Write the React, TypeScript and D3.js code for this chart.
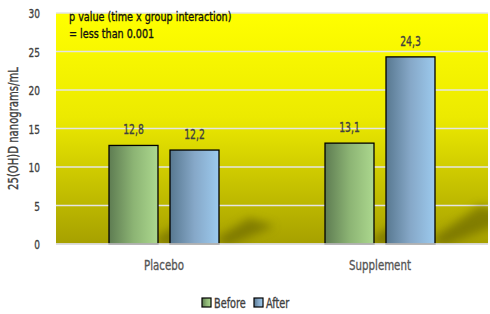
import React from "react";
import * as d3 from "d3";

const categories = ["Placebo", "Supplement"];
const seriesNames = ["Before", "After"];
const beforeValues = [12.8, 13.1];
const afterValues = [12.2, 24.3];
const yTicks = [0, 5, 10, 15, 20, 25, 30];

const W = 490;
const H = 314;
const margin = { left: 56, right: 2, top: 13, bottom: 70 };
const FONT = "'DejaVu Sans', sans-serif";

function T(props: {
  x: number;
  y: number;
  sx?: number;
  size: number;
  anchor?: "start" | "middle" | "end";
  fill?: string;
  rotate?: number;
  children: React.ReactNode;
}) {
  const { x, y, sx = 0.72, size, anchor = "start", fill = "#404040", rotate = 0 } = props;
  return (
    <text
      transform={`translate(${x},${y}) rotate(${rotate}) scale(${sx},1)`}
      textAnchor={anchor}
      fontFamily={FONT}
      fontSize={size}
      fill={fill}
      stroke={fill}
      strokeWidth={0.35}
    >
      {props.children}
    </text>
  );
}

export default function App() {
  const x0 = d3.scaleBand().domain(categories).range([margin.left, W - margin.right]).padding(0);
  const x1 = d3
    .scaleBand()
    .domain(seriesNames)
    .range([0, x0.bandwidth()])
    .paddingInner(0.197)
    .paddingOuter(0.869);
  const y = d3.scaleLinear().domain([0, 30]).range([H - margin.bottom, margin.top]);
  const series = [beforeValues, afterValues];
  const fills = ["url(#gGreen)", "url(#gBlue)"];
  const fmt = (v: number) => v.toFixed(1).replace(".", ",");

  return (
    <svg width={W} height={H} style={{ position: "absolute", left: 0, top: 0, display: "block" }}>
      <defs>
        <linearGradient id="bg" x1="0" y1="0" x2="0" y2="1">
          <stop offset="0" stopColor="#ffff00" />
          <stop offset="0.45" stopColor="#ecea00" />
          <stop offset="1" stopColor="#a6a000" />
        </linearGradient>
        <linearGradient id="gGreen" x1="0" y1="0" x2="1" y2="0">
          <stop offset="0" stopColor="#5e7c52" />
          <stop offset="0.5" stopColor="#8cb474" />
          <stop offset="1" stopColor="#acd88e" />
        </linearGradient>
        <linearGradient id="gBlue" x1="0" y1="0" x2="1" y2="0">
          <stop offset="0" stopColor="#587890" />
          <stop offset="0.5" stopColor="#86a8c8" />
          <stop offset="1" stopColor="#9ccaee" />
        </linearGradient>
        <filter id="blur" x="-50%" y="-50%" width="200%" height="200%">
          <feGaussianBlur stdDeviation="5" />
        </filter>
        <clipPath id="plotClip">
          <rect x={margin.left} y={margin.top} width={W - margin.right - margin.left} height={y(0) - margin.top} />
        </clipPath>
      </defs>
      <rect x={0} y={0} width={W} height={H} fill="#ffffff" />
      <rect x={margin.left} y={margin.top} width={W - margin.right - margin.left} height={y(0) - margin.top} fill="url(#bg)" />
      {yTicks.map((t) => (
        <line key={t} x1={margin.left} x2={W - margin.right} y1={y(t)} y2={y(t)} stroke="#e4e4e4" strokeWidth={1.5} />
      ))}
      <g clipPath="url(#plotClip)">
        {categories.map((c, i) =>
          series.map((s, j) => {
            const bx = (x0(c) as number) + (x1(seriesNames[j]) as number);
            const bw = x1.bandwidth();
            const big = s[i] > 20 ? 1.5 : 1;
            return (
              <polygon
                key={`sh${i}${j}`}
                points={`${bx + bw - 4},${y(0) - 4} ${bx + bw + 30 * big},${y(0) - 26 * big} ${bx + bw + 56 * big},${y(0) - 18 * big} ${bx + bw + 8},${y(0) + 2}`}
                fill="#5a5600"
                opacity={0.55}
                filter="url(#blur)"
              />
            );
          })
        )}
      </g>
      {categories.map((c, i) =>
        series.map((s, j) => {
          const bx = (x0(c) as number) + (x1(seriesNames[j]) as number);
          const bw = x1.bandwidth();
          return (
            <g key={`b${i}${j}`}>
              <rect x={bx} y={y(s[i])} width={bw} height={y(0) - y(s[i])} fill={fills[j]} stroke="#000" strokeWidth={1.3} />
              <T x={bx + bw / 2} y={y(s[i]) - 11} size={14} sx={0.66} anchor="middle">
                {fmt(s[i])}
              </T>
            </g>
          );
        })
      )}
      <line x1={margin.left} x2={W - margin.right} y1={y(0)} y2={y(0)} stroke="#d8d8d8" strokeWidth={1.5} />
      {yTicks.map((t) => (
        <T key={`t${t}`} x={40} y={y(t) + 5} size={12.5} sx={0.72} anchor="end">
          {t}
        </T>
      ))}
      <T x={18} y={(margin.top + y(0)) / 2} size={14} sx={0.72} anchor="middle" rotate={-90}>
        25(OH)D nanograms/mL
      </T>
      {categories.map((c) => (
        <T key={c} x={(x0(c) as number) + x0.bandwidth() / 2} y={270} size={14} sx={0.73} anchor="middle" fill="#555">
          {c}
        </T>
      ))}
      <T x={69} y={21} size={12.5} sx={0.77} fill="#111">p value (time x group interaction)</T>
      <T x={69} y={38} size={12.5} sx={0.77} fill="#111">= less than 0.001</T>
      {seriesNames.map((n, j) => (
        <g key={n} transform={`translate(${202 + j * 52},298)`}>
          <rect x={0} y={0} width={9} height={9} fill={fills[j]} stroke="#000" strokeWidth={1.2} />
          <T x={12} y={10} size={13.5} sx={0.72}>{n}</T>
        </g>
      ))}
    </svg>
  );
}
